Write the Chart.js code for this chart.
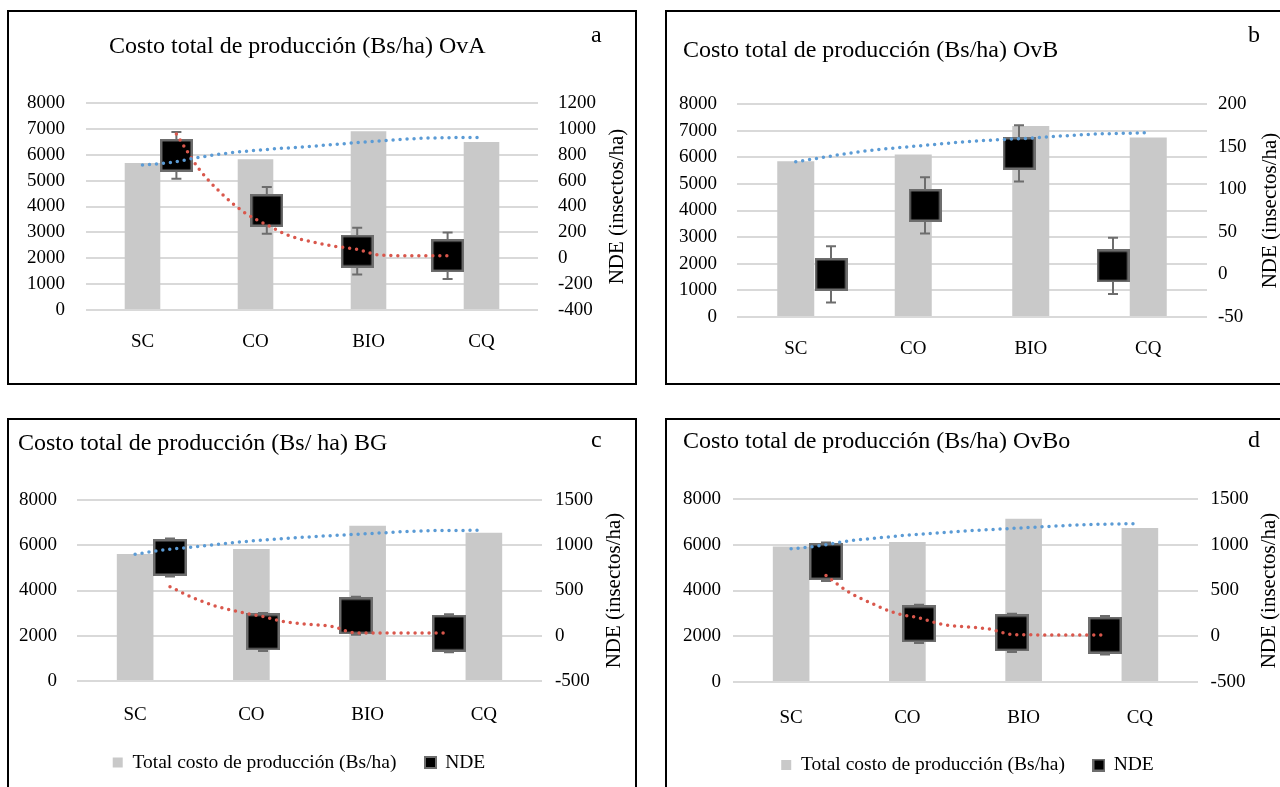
<!DOCTYPE html>
<html>
<head>
<meta charset="utf-8">
<script src="https://cdn.jsdelivr.net/npm/chart.js@4.4.1/dist/chart.umd.min.js"></script>
<style>
  html, body { margin: 0; padding: 0; background: #fff; overflow: hidden; width: 1280px; height: 787px; }
  .panel { position: absolute; border: 2px solid #000; box-sizing: border-box; }
  .box { position: absolute; top: 0; }
  .title, .letter { position: absolute; font-family: "Liberation Serif", "Times New Roman", serif; font-size: 24px; line-height: 24px; color: #000; white-space: nowrap; }
</style>
</head>
<body>
<div class="panel" style="left:7px;top:10px;width:630px;height:375px"><div class="box" style="left:0;width:626px;height:371px"><canvas id="chartA"></canvas></div></div>
<div class="panel" style="left:665px;top:10px;width:640px;height:375px"><div class="box" style="left:0;width:636px;height:371px"><canvas id="chartB"></canvas></div></div>
<div class="panel" style="left:7px;top:418px;width:630px;height:400px"><div class="box" style="left:-36px;width:652px;height:396px"><canvas id="chartC"></canvas></div></div>
<div class="panel" style="left:665px;top:418px;width:640px;height:400px"><div class="box" style="left:0;width:636px;height:396px"><canvas id="chartD"></canvas></div></div>

<div class="title" style="left:109px;top:33px">Costo total de producción (Bs/ha) OvA</div>
<div class="title" style="left:683px;top:37px">Costo total de producción (Bs/ha) OvB</div>
<div class="title" style="left:18px;top:430px">Costo total de producción (Bs/ ha) BG</div>
<div class="title" style="left:683px;top:428px">Costo total de producción (Bs/ha) OvBo</div>
<div class="letter" style="left:591px;top:22px">a</div>
<div class="letter" style="left:1248px;top:22px">b</div>
<div class="letter" style="left:591px;top:427px">c</div>
<div class="letter" style="left:1248px;top:427px">d</div>

<script>
// categories and x positions
const categories = ['SC', 'CO', 'BIO', 'CQ'];
const ndeX = [1, 2, 3, 4];
const costTrendX = [0, 0.25, 0.5, 0.75, 1, 1.5, 2, 2.5, 3];
const ndeTrendX = [1, 1.25, 1.5, 1.75, 2, 2.25, 2.5, 2.75, 3, 3.25, 3.5, 3.75, 4];

// panel a - OvA
const costA = [5680, 5830, 6910, 6490];
const ndeA = [795, 370, 55, 20];
const ndeErrA = [180, 180, 180, 180];
const costTrendA = [5600, 5700, 5900, 6060, 6170, 6330, 6500, 6640, 6670];
const ndeTrendA = [960, 690, 500, 355, 258, 174, 127, 93, 68, 25, 20, 20, 20];
const costTicksA = [0, 8000, 1000];
const ndeTicksA = [-400, 1200, 200];

// panel b - OvB
const costB = [5850, 6100, 7170, 6740];
const ndeB = [0, 81, 142, 10];
const ndeErrB = [33, 33, 33, 33];
const costTrendB = [5830, 6010, 6180, 6310, 6410, 6600, 6720, 6860, 6920];
const costTicksB = [0, 8000, 1000];
const ndeTicksB = [-50, 200, 50];

// panel c - BG
const costC = [5610, 5830, 6860, 6550];
const ndeC = [865, 42, 220, 28];
const ndeErrC = [210, 210, 210, 210];
const costTrendC = [5600, 5800, 5920, 6060, 6190, 6370, 6510, 6640, 6660];
const ndeTrendC = [541, 420, 325, 262, 212, 152, 125, 102, 31, 31, 31, 31, 31];
const costTicksC = [0, 8000, 2000];
const ndeTicksC = [-500, 1500, 500];

// panel d - OvBo
const costD = [5920, 6120, 7140, 6730];
const ndeD = [815, 135, 37, 11];
const ndeErrD = [210, 210, 210, 210];
const costTrendD = [5820, 5960, 6170, 6300, 6420, 6600, 6740, 6870, 6930];
const ndeTrendD = [664, 480, 356, 252, 200, 130, 103, 80, 20, 15, 15, 15, 15];
const costTicksD = [0, 8000, 2000];
const ndeTicksD = [-500, 1500, 500];

const costLabel = 'Total costo de producción (Bs/ha)';
const ndeLabel = 'NDE';
const sideLabel = 'NDE (insectos/ha)';

const FONT = '"Liberation Serif", "Times New Roman", serif';
const barColor = '#c9c9c9';
const gridColor = '#d9d9d9';
const blue = '#5b9bd5';
const red = '#d9574c';
const whisker = '#6d6d6d';

Chart.defaults.font.family = FONT;
Chart.defaults.color = '#000';

function makeMarker(w, h, b) {
    const c = document.createElement('canvas');
    c.width = w;
    c.height = h;
    const g = c.getContext('2d');
    g.fillStyle = whisker;
    g.fillRect(0, 0, w, h);
    g.fillStyle = '#000';
    g.fillRect(b, b, w - 2 * b, h - 2 * b);
    return c;
}

const legendMarker = makeMarker(13, 13, 2);

// error bars, drawn just before the NDE markers
const errorBars = {
    id: 'errorBars',
    beforeDatasetDraw(chart, args) {
        const ds = chart.data.datasets[args.index];
        if (!ds.errors) return;
        const meta = args.meta;
        const yScale = chart.scales[meta.yAxisID];
        const ctx = chart.ctx;
        ctx.save();
        ctx.strokeStyle = whisker;
        ctx.lineWidth = 2;
        meta.data.forEach((pt, i) => {
            const v = ds.data[i].y;
            const e = ds.errors[i];
            const top = yScale.getPixelForValue(v + e);
            const bot = yScale.getPixelForValue(v - e);
            ctx.beginPath();
            ctx.moveTo(pt.x, top);
            ctx.lineTo(pt.x, bot);
            ctx.moveTo(pt.x - 5, top);
            ctx.lineTo(pt.x + 5, top);
            ctx.moveTo(pt.x - 5, bot);
            ctx.lineTo(pt.x + 5, bot);
            ctx.stroke();
        });
        ctx.restore();
    }
};

// rotated right axis title, reading bottom to top like the original
const sideTitle = {
    id: 'sideTitle',
    afterDraw(chart, args, opts) {
        const { ctx, chartArea } = chart;
        ctx.save();
        ctx.translate(opts.x, (chartArea.top + chartArea.bottom) / 2);
        ctx.rotate(-Math.PI / 2);
        ctx.font = '21px ' + FONT;
        ctx.fillStyle = '#000';
        ctx.textAlign = 'center';
        ctx.textBaseline = 'middle';
        ctx.fillText(sideLabel, 0, 0);
        ctx.restore();
    }
};

function points(xs, ys) {
    return xs.map((x, i) => ({ x: x, y: ys[i] }));
}

function trendLine(label, data, xAxis, yAxis, color) {
    return {
        type: 'line',
        label: label,
        data: data,
        xAxisID: xAxis,
        yAxisID: yAxis,
        borderColor: color,
        borderWidth: 3.5,
        borderDash: [0, 7],
        borderCapStyle: 'round',
        pointRadius: 0,
        fill: false,
        cubicInterpolationMode: 'monotone',
        order: 0
    };
}

const plainTick = v => String(v);

function makeChart(id, p) {
    const datasets = [trendLine('Tendencia costo', points(costTrendX, p.costTrend), 'xc', 'y', blue)];
    if (p.ndeTrend) {
        datasets.push(trendLine('Tendencia NDE', points(ndeTrendX, p.ndeTrend), 'xn', 'y1', red));
    }
    datasets.push({
        type: 'line',
        label: ndeLabel,
        data: points(ndeX, p.nde),
        errors: p.err,
        xAxisID: 'xn',
        yAxisID: 'y1',
        showLine: false,
        pointStyle: makeMarker(p.marker[0], p.marker[1], 2.5),
        pointRadius: 5,
        order: 1
    });
    datasets.push({
        type: 'bar',
        label: costLabel,
        data: p.cost,
        xAxisID: 'x',
        yAxisID: 'y',
        backgroundColor: barColor,
        grouped: false,
        barPercentage: 0.315,
        categoryPercentage: 1,
        order: 2
    });

    return new Chart(document.getElementById(id), {
        type: 'bar',
        data: { labels: categories, datasets: datasets },
        plugins: [errorBars, sideTitle],
        options: {
            responsive: true,
            maintainAspectRatio: false,
            animation: false,
            events: [],
            layout: { padding: p.padding },
            plugins: {
                title: { display: false },
                tooltip: { enabled: false },
                sideTitle: { x: p.sideX },
                legend: {
                    display: p.legend,
                    position: 'bottom',
                    labels: {
                        usePointStyle: true,
                        boxWidth: 10,
                        boxHeight: 10,
                        padding: 29,
                        font: { size: 19.5, family: FONT },
                        color: '#000',
                        generateLabels: () => [
                            { text: costLabel, fillStyle: barColor, strokeStyle: barColor, lineWidth: 0, pointStyle: 'rect', datasetIndex: 0 },
                            { text: ndeLabel, fillStyle: '#000', strokeStyle: '#000', lineWidth: 0, pointStyle: legendMarker, datasetIndex: 1 }
                        ]
                    }
                }
            },
            scales: {
                x: {
                    type: 'category',
                    position: 'bottom',
                    offset: true,
                    grid: { display: false, drawTicks: false },
                    border: { display: false },
                    ticks: { font: { size: 19 }, padding: p.xPad, maxRotation: 0, autoSkip: false },
                    afterFit: s => { s.height = p.xHeight; }
                },
                xc: { type: 'linear', position: 'bottom', display: false, offset: false, min: -0.5, max: 3.5 },
                xn: { type: 'linear', position: 'bottom', display: false, offset: false, min: 0, max: 5 },
                y: {
                    position: 'left',
                    min: p.costTicks[0],
                    max: p.costTicks[1],
                    ticks: { stepSize: p.costTicks[2], font: { size: 19 }, padding: p.yPad, callback: plainTick },
                    grid: { color: gridColor, lineWidth: 2, drawTicks: false },
                    border: { display: false },
                    afterFit: s => { s.width = p.yWidth; }
                },
                y1: {
                    position: 'right',
                    min: p.ndeTicks[0],
                    max: p.ndeTicks[1],
                    ticks: { stepSize: p.ndeTicks[2], font: { size: 19 }, padding: p.y1Pad, callback: plainTick },
                    grid: { display: false, drawTicks: false },
                    border: { display: false },
                    afterFit: s => { s.width = p.y1Width; }
                }
            }
        }
    });
}

makeChart('chartA', {
    cost: costA, nde: ndeA, err: ndeErrA, costTrend: costTrendA, ndeTrend: ndeTrendA,
    costTicks: costTicksA, ndeTicks: ndeTicksA, marker: [33, 33], legend: false,
    padding: { top: 91, left: 0, right: 0, bottom: 0 },
    yWidth: 77, y1Width: 97, xHeight: 73, yPad: 21, y1Pad: 20, xPad: 20.6, sideX: 608
});

makeChart('chartB', {
    cost: costB, nde: ndeB, err: ndeErrB, costTrend: costTrendB, ndeTrend: null,
    costTicks: costTicksB, ndeTicks: ndeTicksB, marker: [33, 33], legend: false,
    padding: { top: 92, left: 0, right: 0, bottom: 0 },
    yWidth: 70, y1Width: 96, xHeight: 66, yPad: 20, y1Pad: 11, xPad: 20.6, sideX: 603
});

makeChart('chartC', {
    cost: costC, nde: ndeC, err: ndeErrC, costTrend: costTrendC, ndeTrend: ndeTrendC,
    costTicks: costTicksC, ndeTicks: ndeTicksC, marker: [34, 37], legend: true,
    padding: { top: 80, left: 0, right: 0, bottom: 33.75 },
    yWidth: 104, y1Width: 83, xHeight: 42.75, yPad: 20, y1Pad: 13, xPad: 22.6, sideX: 641
});

makeChart('chartD', {
    cost: costD, nde: ndeD, err: ndeErrD, costTrend: costTrendD, ndeTrend: ndeTrendD,
    costTicks: costTicksD, ndeTicks: ndeTicksD, marker: [34, 37], legend: true,
    padding: { top: 79, left: 0, right: 35, bottom: 31.25 },
    yWidth: 66, y1Width: 70, xHeight: 44.25, yPad: 12, y1Pad: 12.6, xPad: 24.6, sideX: 602
});
</script>
</body>
</html>
